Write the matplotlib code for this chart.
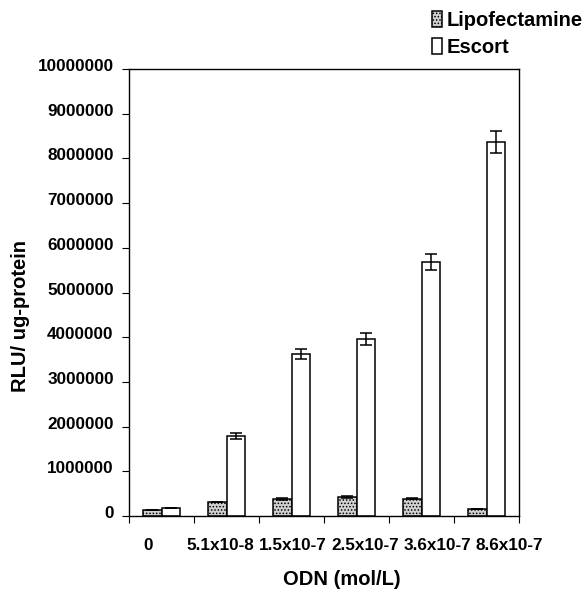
import numpy as np
import matplotlib.pyplot as plt
import matplotlib.transforms as mtransforms

plt.rcParams['font.family'] = ['Liberation Sans', 'DejaVu Sans']
plt.rcParams['font.weight'] = 'bold'
plt.rcParams['hatch.linewidth'] = 0.7

# data
doses = ["0", "5.1x10-8", "1.5x10-7", "2.5x10-7", "3.6x10-7", "8.6x10-7"]
lipo = [130000, 320000, 380000, 430000, 390000, 160000]
lipo_err = [0, 0, 20000, 20000, 20000, 0]
escort = [190000, 1790000, 3620000, 3960000, 5680000, 8370000]
escort_err = [0, 65000, 110000, 130000, 180000, 250000]
yticks = [0, 1000000, 2000000, 3000000, 4000000, 5000000,
          6000000, 7000000, 8000000, 9000000, 10000000]

fig = plt.figure(figsize=(5.84, 5.91), dpi=100)
ax = fig.add_axes([0.2209, 0.1269, 0.6678, 0.7563])

x = np.arange(len(doses))
w = 0.29
eb = dict(ecolor='black', elinewidth=1.1, capsize=4, capthick=1.1)
b1 = ax.bar(x - w / 2, lipo, w, yerr=lipo_err, color='#d0d0d0',
            edgecolor='black', linewidth=1.1, hatch='.....',
            error_kw=eb, label='Lipofectamine')
b2 = ax.bar(x + w / 2, escort, w, yerr=escort_err, color='white',
            edgecolor='black', linewidth=1.1, error_kw=eb, label='Escort')

ax.set_xlim(-0.5, len(doses) - 0.5)
ax.set_ylim(0, 10000000)
ax.set_yticks(yticks)
ax.set_yticklabels([str(v) for v in yticks], fontsize=12.3, fontweight='bold')
ax.tick_params(axis='y', direction='out', length=5, width=0.8, pad=6)
# labels sit a little above their ticks in the original
shift = mtransforms.ScaledTranslation(0, 4 / 100, fig.dpi_scale_trans)
for lab in ax.get_yticklabels():
    lab.set_transform(lab.get_transform() + shift)

# ticks at group boundaries, labels spread out a bit like the original
ax.set_xticks(np.arange(len(doses) + 1) - 0.5)
ax.set_xticklabels([])
ax.tick_params(axis='x', direction='out', length=5, width=0.8)
for i, d in enumerate(doses):
    ax.text(-0.2 + i * 1.11, -0.065, d, transform=ax.get_xaxis_transform(),
            ha='center', va='center', fontsize=12.3, fontweight='bold')

for s in ax.spines.values():
    s.set_linewidth(1.0)

fig.text(0.585, 0.003, "ODN (mol/L)", ha='center', va='bottom',
         fontsize=14.5, fontweight='bold')
fig.text(0.035, 0.465, "RLU/ ug-protein", rotation=90, ha='center',
         va='center', fontsize=14.5, fontweight='bold')

fig.legend(handles=[b1, b2], loc='upper left', bbox_to_anchor=(0.716, 1.005),
           frameon=False, prop={'size': 14.5, 'weight': 'bold'},
           handlelength=0.5, handleheight=0.8, handletextpad=0.2,
           labelspacing=0.4, borderpad=0.2)

fig.savefig('out.png', dpi=100)
